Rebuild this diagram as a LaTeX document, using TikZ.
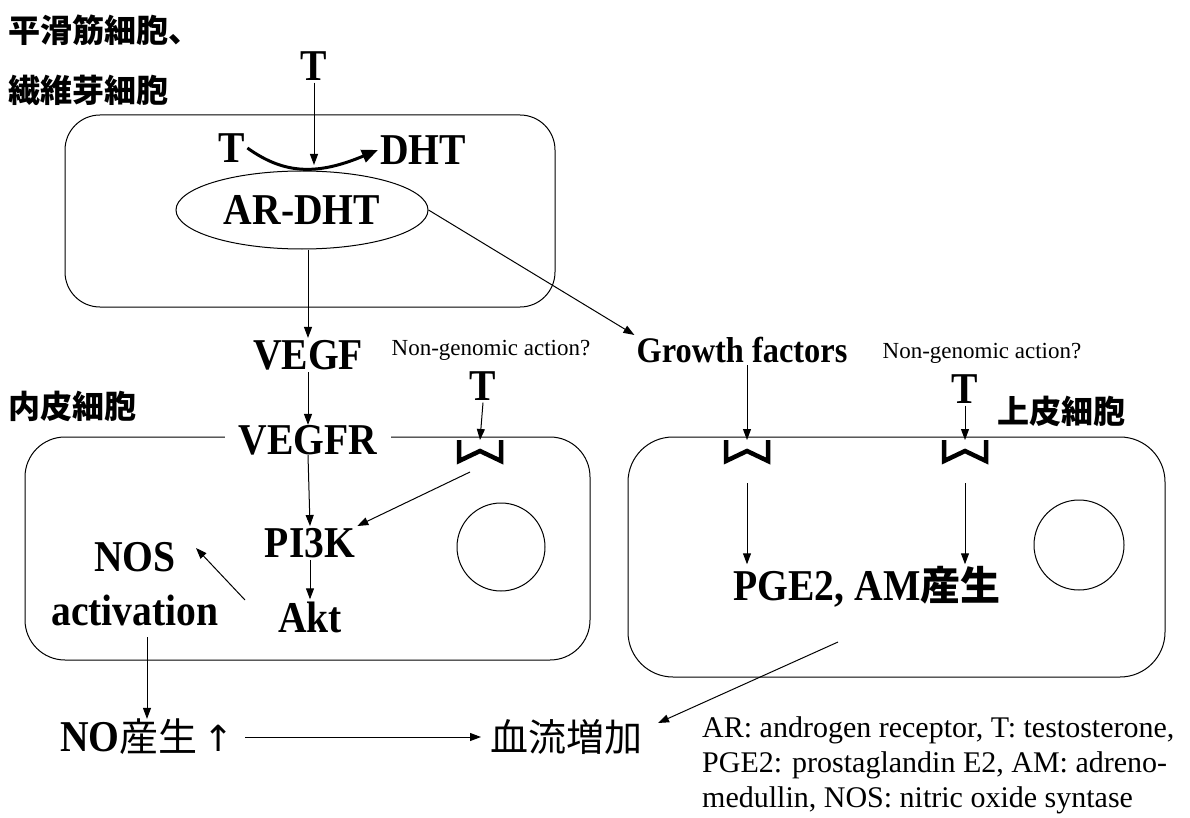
\documentclass[tikz,border=0pt]{standalone}
\usepackage{fontspec}
\setmainfont{Liberation Serif}
\newfontfamily\bt{Liberation Serif}[FakeStretch=0.9]
\newfontfamily\jp{Noto Sans CJK JP}
\usetikzlibrary{arrows.meta,shapes.geometric}
\newcommand\myfs[1]{\fontsize{#1}{#1}\selectfont}
\begin{document}
\begin{tikzpicture}[x=1pt,y=-1pt,
  lbl/.style={font=\bt\bfseries\myfs{44}, inner sep=2pt},
  jlbl/.style={font=\jp\bfseries\myfs{32}, inner sep=0pt, anchor=west},
  small/.style={font=\myfs{23}, inner sep=0pt},
  legend/.style={font=\myfs{30}, inner sep=0pt, anchor=base west},
  cell/.style={draw, line width=1pt, rounded corners=40pt},
  arr/.style={-{Triangle[length=11pt,width=8pt]}, line width=1pt},
  recep/.pic={\draw[line width=4.5pt, line join=miter, line cap=butt] (-21,0) -- (-21,21) -- (0,11) -- (21,21) -- (21,0);}
]
\useasboundingbox (0,0) rectangle (1190,818);

% labels top-left
\node[jlbl] (smc) at (8,30) {平滑筋細胞、};
\node[jlbl] (fib) at (8,90) {繊維芽細胞};

% top cell
\draw[cell, rounded corners=35pt] (65,115) rectangle (555,307);
\node[lbl] (Ttop) at (314,66) {T};
\node[lbl] (Tin) at (232,148) {T};
\node[lbl] (DHT) at (423,150) {DHT};
\node[draw, ellipse, line width=1pt, minimum width=252pt, minimum height=78pt, font=\bt\bfseries\myfs{44}] (ardht) at (302,210) {AR-DHT};
\coordinate (c1) at (314,165);
\draw[arr] (Ttop.south) -- (c1);
\draw[line width=3pt, -{Triangle[length=16pt,width=13pt]}] (Tin.east) .. controls (285,175) and (318,175) .. (DHT.west);

% growth
\node[lbl] (vegf) at (308,355) {VEGF};
\draw[arr] (vegf.north |- ardht.south) -- (vegf.north);
\node[font=\bt\bfseries\myfs{36}, inner sep=2pt] (gf) at (742,350) {Growth factors};
\draw[arr] (ardht.east) -- (gf.north west);
\node[small] (ng1) at (491,350) {Non-genomic action?};
\node[small] (ng2) at (982,353) {Non-genomic action?};

% endothelial cell
\node[jlbl] (endo) at (8,406) {内皮細胞};
\draw[cell] (25,437) rectangle (590,660);
\node[lbl, fill=white, inner xsep=14pt, inner ysep=0pt] (vegfr) at (308,440) {VEGFR};
\draw[arr] (vegf.south) -- (vegfr.north);
\node[lbl] (T2) at (483,386) {T};
\coordinate (r1) at (480,440);
\pic at (r1) {recep};
\draw[arr] (T2.south) -- (r1);
\node[lbl] (pi3k) at (310,543) {PI3K};
\node[lbl] (akt) at (310,617) {Akt};
\node[lbl] (nos) at (135,557) {NOS};
\node[lbl] (nosact) at (135,610) {activation};
\node[draw, circle, line width=1pt, minimum size=88pt] (nuc1) at (501,547) {};
\draw[arr] (vegfr.south) -- (pi3k.north);
\draw[arr] (pi3k.south) -- (akt.north);
\coordinate (r1b) at (470,472);
\draw[arr] (r1b) -- (pi3k.north east);
\coordinate (a1) at (245,600);
\coordinate (a2) at (196,548);
\draw[arr] (a1) -- (a2);

% epithelial cell
\draw[cell, rounded corners=45pt] (628,437) rectangle (1165,677);
\node[jlbl] (epi) at (997,411) {上皮細胞};
\coordinate (r2) at (747,440);
\coordinate (r3) at (965,440);
\pic at (r2) {recep};
\pic at (r3) {recep};
\node[lbl] (T3) at (965,389) {T};
\draw[arr] (T3.south) -- (r3);
\draw[arr] (gf.south -| r2) -- (r2);
\node[lbl] (pge) at (867,587) {PGE2, AM{\jp\bfseries\myfs{40}産生}};
\node[draw, circle, line width=1pt, minimum size=90pt] (nuc2) at (1079,545) {};
\coordinate (r2b) at (747,483);
\coordinate (r3b) at (965,483);
\draw[arr] (r2b) -- (r2b |- pge.north);
\draw[arr] (r3b) -- (r3b |- pge.north);

% bottom
\node[font=\bt\myfs{44}, inner sep=0pt, anchor=west] (no) at (60,737) {\textbf{NO}{\jp\myfs{39}産生}\hspace{6pt}{\fontspec{DejaVu Sans}\myfs{36}↑}};
\coordinate (n1) at (147,637);
\draw[arr] (n1) -- (n1 |- no.north);
\node[font=\jp\myfs{38}, inner sep=0pt, anchor=west] (blood) at (490,737) {血流増加};
\coordinate (n2) at (245,737);
\coordinate (n3) at (481,737);
\draw[arr] (n2) -- (n3);
\coordinate (p1) at (838,642);
\coordinate (p2) at (658,723);
\draw[arr] (p1) -- (p2);

% legend
\node[legend] (leg1) at (702,737) {AR: androgen receptor, T: testosterone,};
\node[legend] (leg2) at (702,772) {PGE2: prostaglandin E2, AM: adreno-};
\node[legend] (leg3) at (702,807) {medullin, NOS: nitric oxide syntase};
\end{tikzpicture}
\end{document}
